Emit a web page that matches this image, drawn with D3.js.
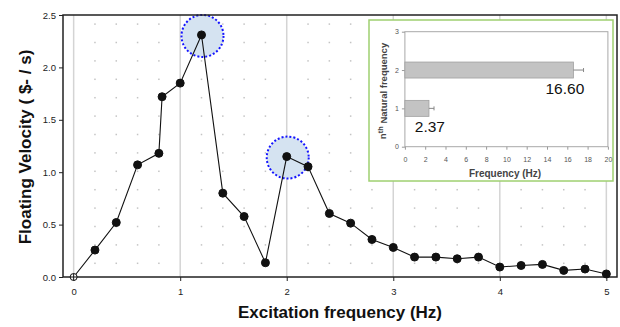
<!DOCTYPE html>
<html>
<head>
<meta charset="utf-8">
<script src="https://cdn.jsdelivr.net/npm/d3@7"></script>
<style>
  body { margin: 0; background: #fff; }
  svg { font-family: "Liberation Sans", Arial, sans-serif; }
</style>
</head>
<body>
<div id="chart"></div>
<script>
// main series: excitation frequency (Hz) vs floating velocity
var freqHz = [0, 0.2, 0.4, 0.6, 0.8, 0.83, 1.0, 1.2, 1.4, 1.6, 1.8, 2.0, 2.2, 2.4, 2.6, 2.8, 3.0,
              3.2, 3.4, 3.6, 3.8, 4.0, 4.2, 4.4, 4.6, 4.8, 5.0];
var velocity = [0, 0.257, 0.52, 1.07, 1.18, 1.72, 1.85, 2.31, 0.80, 0.577, 0.136, 1.149, 1.053, 0.606,
                0.514, 0.358, 0.282, 0.19, 0.19, 0.174, 0.19, 0.095, 0.11, 0.12, 0.063, 0.076, 0.029];
var xTicks = [0, 1, 2, 3, 4, 5];
var yTicks = [0, 0.5, 1.0, 1.5, 2.0, 2.5];
var highlightIdx = [7, 11];

// inset: natural frequencies
var modes = [1, 2];
var natFreq = [2.37, 16.60];
var natErr = [0.5, 1.0];
var insetXTicks = [0, 2, 4, 6, 8, 10, 12, 14, 16, 18, 20];
var insetYTicks = [0, 1, 2, 3];

var width = 620, height = 327;
var plotLeft = 63, plotRight = 617, plotTop = 15, plotBottom = 277;

var svg = d3.select("#chart").append("svg")
    .attr("width", width)
    .attr("height", height);

var x = d3.scaleLinear().domain([-0.1, 5.1]).range([plotLeft, plotRight]);
var y = d3.scaleLinear().domain([0, 2.5]).range([plotBottom, plotTop]);

// dotted minor grid
var g = svg.append("g");
for (var py = plotBottom - 13.7; py > plotTop + 3; py -= 18.4) {
  for (var i = 1; i < 26; i++) {
    if (i % 5 == 0) continue;
    g.append("rect")
      .attr("x", x(i * 0.2) - 0.75)
      .attr("y", py - 0.75)
      .attr("width", 1.5)
      .attr("height", 1.5)
      .style("fill", "#c4c4c4");
  }
}

// integer gridlines
svg.append("g").selectAll("line")
  .data(xTicks)
  .enter().append("line")
  .attr("x1", function (d) { return x(d); })
  .attr("x2", function (d) { return x(d); })
  .attr("y1", plotTop)
  .attr("y2", plotBottom)
  .style("stroke", "#d4d4d4")
  .style("stroke-width", 1.5);

// highlight circles
svg.append("g").selectAll("circle")
  .data(highlightIdx)
  .enter().append("circle")
  .attr("cx", function (d) { return x(freqHz[d]) + 1; })
  .attr("cy", function (d) { return y(velocity[d]) + 1; })
  .attr("r", 21)
  .style("fill", "#d5e3f1")
  .style("stroke", "#1414ff")
  .style("stroke-width", 2)
  .style("stroke-dasharray", "2,2");

// frame
svg.append("rect")
  .attr("x", plotLeft).attr("y", plotTop)
  .attr("width", plotRight - plotLeft).attr("height", plotBottom - plotTop)
  .style("fill", "none")
  .style("stroke", "#222")
  .style("stroke-width", 1.5);

// axes
var xAxis = svg.append("g")
  .attr("transform", "translate(0," + plotBottom + ")")
  .call(d3.axisBottom(x).tickValues(xTicks).tickFormat(d3.format("d")).tickSize(4));
var yAxis = svg.append("g")
  .attr("transform", "translate(" + plotLeft + ",0)")
  .call(d3.axisLeft(y).tickValues(yTicks).tickFormat(d3.format(".1f")).tickSize(4));
[xAxis, yAxis].forEach(function (a) {
  a.select(".domain").remove();
  a.selectAll("line").style("stroke", "#222");
  a.selectAll("text").style("font-size", "9.5px").style("fill", "#222")
    .style("font-family", "'Liberation Sans', Arial, sans-serif");
});
xAxis.selectAll("text").attr("dy", "1.2em");

// data line
var line = d3.line()
  .x(function (d, i) { return x(freqHz[i]); })
  .y(function (d) { return y(d); });

svg.append("path")
  .datum(velocity)
  .attr("d", line)
  .style("fill", "none")
  .style("stroke", "#111")
  .style("stroke-width", 1.1);

svg.append("g").selectAll("circle")
  .data(velocity)
  .enter().append("circle")
  .attr("cx", function (d, i) { return x(freqHz[i]); })
  .attr("cy", function (d) { return y(d); })
  .attr("r", function (d, i) { return i == 0 ? 3.5 : 4; })
  .style("fill", function (d, i) { return i == 0 ? "#fff" : "#111"; })
  .style("stroke", "#111")
  .style("stroke-width", 1);

// cross in the open first marker
svg.append("path")
  .attr("d", "M" + (x(0) - 3.5) + "," + y(0) + "h7M" + x(0) + "," + (y(0) - 3.5) + "v7")
  .style("stroke", "#111")
  .style("stroke-width", 1);

// axis titles
svg.append("text")
  .attr("x", 340).attr("y", 318)
  .attr("text-anchor", "middle")
  .style("font-size", "17px")
  .style("font-weight", "bold")
  .style("fill", "#111")
  .text("Excitation frequency (Hz)");

svg.append("text")
  .attr("transform", "translate(31,147) rotate(-90)")
  .attr("text-anchor", "middle")
  .style("font-size", "17px")
  .style("font-weight", "bold")
  .style("fill", "#111")
  .text("Floating Velocity ( $- / s)");

// ----- inset -----
var inset = svg.append("g");
inset.append("rect")
  .attr("x", 369).attr("y", 20)
  .attr("width", 244).attr("height", 161)
  .style("fill", "#fff")
  .style("stroke", "#9fd070")
  .style("stroke-width", 1.5);

var ix = d3.scaleLinear().domain([0, 20]).range([404.9, 607.9]);
var iy = d3.scaleLinear().domain([0, 3]).range([146.7, 31.7]);

inset.append("rect")
  .attr("x", ix(0)).attr("y", iy(3))
  .attr("width", ix(20) - ix(0)).attr("height", iy(0) - iy(3))
  .style("fill", "none")
  .style("stroke", "#a8a8a8")
  .style("stroke-width", 1);

var ixAxis = inset.append("g")
  .attr("transform", "translate(0," + iy(0) + ")")
  .call(d3.axisBottom(ix).tickValues(insetXTicks).tickFormat(d3.format("d")).tickSize(3));
var iyAxis = inset.append("g")
  .attr("transform", "translate(" + ix(0) + ",0)")
  .call(d3.axisLeft(iy).tickValues(insetYTicks).tickFormat(d3.format("d")).tickSize(3));
[ixAxis, iyAxis].forEach(function (a) {
  a.select(".domain").remove();
  a.selectAll("line").style("stroke", "#999");
  a.selectAll("text").style("font-size", "7px").style("fill", "#555")
    .style("font-family", "'Liberation Sans', Arial, sans-serif");
});
ixAxis.selectAll("text").attr("dy", "1.4em");
iyAxis.selectAll("text").attr("x", -6);

var barH = 16;
inset.append("g").selectAll("rect")
  .data(natFreq)
  .enter().append("rect")
  .attr("x", ix(0))
  .attr("y", function (d, i) { return iy(modes[i]) - barH / 2; })
  .attr("width", function (d) { return ix(d) - ix(0); })
  .attr("height", barH)
  .style("fill", "#c3c3c3")
  .style("stroke", "#a0a0a0")
  .style("stroke-width", 0.8);

// error bars
natFreq.forEach(function (d, i) {
  var yc = iy(modes[i]);
  inset.append("path")
    .attr("d", "M" + ix(d) + "," + yc + "H" + ix(d + natErr[i]) +
               "M" + ix(d + natErr[i]) + "," + (yc - 2) + "v4")
    .style("stroke", "#888")
    .style("stroke-width", 1)
    .style("fill", "none");
});

// value labels
inset.append("g").selectAll("text")
  .data(natFreq)
  .enter().append("text")
  .attr("x", function (d) { return Math.max(ix(d) - 8.5, ix(0) + 25); })
  .attr("y", function (d, i) { return iy(modes[i]) + 23.5; })
  .attr("text-anchor", "middle")
  .style("font-size", "15.5px")
  .style("fill", "#111")
  .text(function (d) { return d.toFixed(2); });

inset.append("text")
  .attr("x", 505).attr("y", 177)
  .attr("text-anchor", "middle")
  .style("font-size", "10px")
  .style("font-weight", "bold")
  .style("fill", "#444")
  .text("Frequency (Hz)");

var ylab = inset.append("text")
  .attr("transform", "translate(386,91) rotate(-90)")
  .attr("text-anchor", "middle")
  .style("font-size", "9.5px")
  .style("font-weight", "bold")
  .style("fill", "#444");
ylab.append("tspan").text("n");
ylab.append("tspan").attr("dy", "-0.4em").style("font-size", "7.5px").text("th");
ylab.append("tspan").attr("dy", "0.4em").text(" Natural frequency");
</script>
</body>
</html>
